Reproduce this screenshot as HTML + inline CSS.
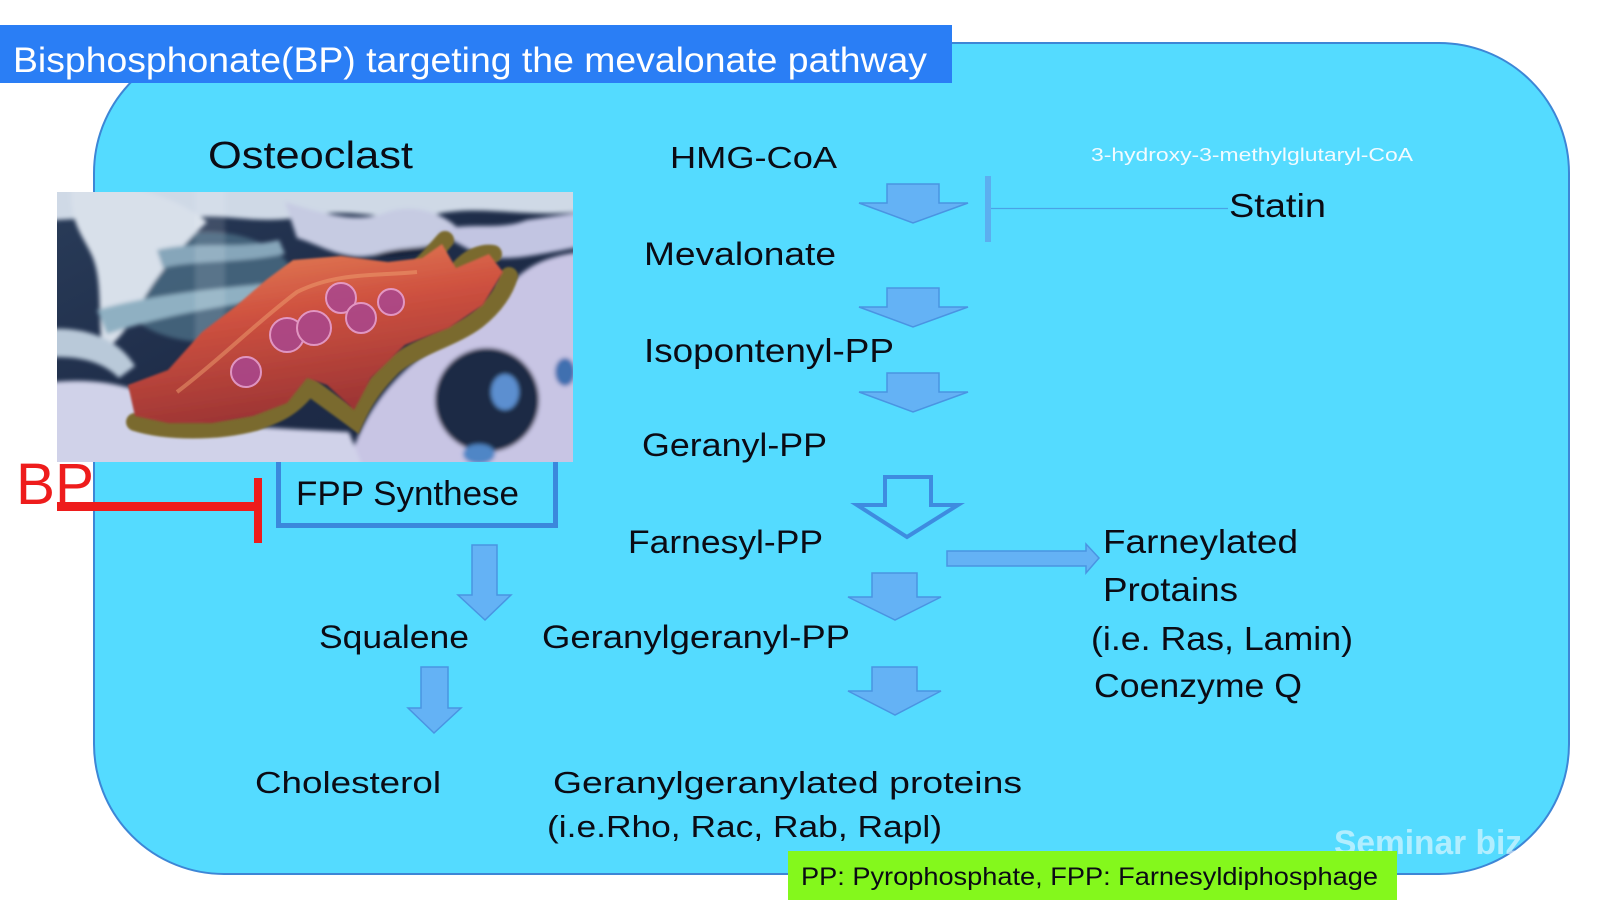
<!DOCTYPE html>
<html>
<head>
<meta charset="utf-8">
<style>
  html,body{margin:0;padding:0;background:#ffffff;}
  svg{display:block;}
  text{font-family:"Liberation Sans", Arial, sans-serif;}
</style>
</head>
<body>
<svg width="1600" height="900" viewBox="0 0 1600 900" xmlns="http://www.w3.org/2000/svg">
  <defs>
    <clipPath id="imgclip"><rect x="0" y="0" width="516" height="270"/></clipPath>
    <filter id="soft" x="-10%" y="-10%" width="120%" height="120%"><feGaussianBlur stdDeviation="2"/></filter>
    <filter id="soft1" x="-10%" y="-10%" width="120%" height="120%"><feGaussianBlur stdDeviation="1"/></filter>
    <linearGradient id="cellg" x1="0" y1="0" x2="0.3" y2="1">
      <stop offset="0" stop-color="#e88a5c"/>
      <stop offset="0.45" stop-color="#cf5240"/>
      <stop offset="1" stop-color="#9c3434"/>
    </linearGradient>
    <linearGradient id="bgimg" x1="0" y1="0" x2="1" y2="1">
      <stop offset="0" stop-color="#2a3d5a"/>
      <stop offset="0.5" stop-color="#1e2c48"/>
      <stop offset="1" stop-color="#1a2640"/>
    </linearGradient>
  </defs>

  <rect x="0" y="0" width="1600" height="900" fill="#ffffff"/>

  <!-- main rounded panel -->
  <rect x="94" y="43" width="1475" height="831" rx="130" ry="130" fill="#54dbff" stroke="#3d86d6" stroke-width="2"/>

  <!-- title bar -->
  <rect x="0" y="25" width="952" height="58" fill="#2a7ef5"/>
  <text x="13" y="72" font-size="35" fill="#ffffff" textLength="914" lengthAdjust="spacingAndGlyphs">Bisphosphonate(BP) targeting the mevalonate pathway</text>

  <!-- BP inhibitor -->
  <text x="16" y="504" font-size="58" fill="#ee1c1c" textLength="78" lengthAdjust="spacingAndGlyphs">BP</text>

  <!-- FPP Synthese box -->
  <rect x="278.5" y="430" width="277" height="95.5" fill="none" stroke="#3b88dc" stroke-width="5"/>
  <text x="296" y="505" font-size="34" fill="#0b0b14" textLength="223" lengthAdjust="spacingAndGlyphs">FPP Synthese</text>

  <!-- red inhibition -->
  <rect x="57" y="502" width="205" height="9" fill="#ee1c1c"/>
  <rect x="254" y="478" width="8" height="65" fill="#ee1c1c"/>

  <!-- osteoclast image -->
  <rect x="57" y="192" width="516" height="270" fill="#1e2c48"/>
  <g transform="translate(57,192)">
    <g clip-path="url(#imgclip)">
      <rect x="-10" y="-10" width="536" height="290" fill="url(#bgimg)"/>
      <g filter="url(#soft)">
        <ellipse cx="150" cy="95" rx="90" ry="55" fill="#4a6d85" opacity="0.8"/>
        <ellipse cx="330" cy="45" rx="60" ry="20" fill="#16223a"/>
        <!-- top band -->
        <path d="M-20,-20 H540 V18 C470,28 430,12 380,22 C330,32 300,14 250,24 C200,34 170,20 130,26 C90,32 40,22 -20,30 Z" fill="#cfd9e6"/>
        <!-- left hook bone -->
        <path d="M15,-10 C70,-12 125,8 150,30 C127,52 100,82 84,112 C72,134 62,148 46,160 C40,124 46,92 36,66 C28,46 10,30 15,-10 Z" fill="#d8e0ea"/>
        <!-- struts -->
        <path d="M40,118 C90,104 140,98 205,92 L210,108 C150,116 100,126 50,142 Z" fill="#8fb0c2"/>
        <path d="M100,58 C140,48 180,58 222,48 L228,62 C182,72 140,68 106,76 Z" fill="#86a6ba"/>
        <path d="M-20,138 C30,132 62,148 78,174 L62,186 C46,170 22,162 -20,166 Z" fill="#b9c9d9"/>
        <rect x="138" y="-10" width="30" height="200" fill="#ffffff" opacity="0.12"/>
        <!-- top middle bone -->
        <path d="M228,10 C268,22 300,32 330,20 C360,10 392,24 404,40 C382,60 350,52 320,62 C290,72 262,52 240,46 Z" fill="#c6cbe2"/>
        <!-- right top strut -->
        <path d="M380,40 C410,28 440,40 470,28 L540,18 V52 C480,62 450,72 420,62 Z" fill="#c2c5e2"/>
        <path d="M440,92 C470,88 495,94 540,92 V114 C490,114 468,112 446,112 Z" fill="#c0c3e0"/>
        <!-- right big bone -->
        <path d="M288,290 C298,230 330,190 370,160 C400,136 430,122 450,96 C470,72 492,62 540,58 V290 Z" fill="#c8c5e4"/>
        <!-- bottom-left bone -->
        <path d="M-20,192 C40,183 80,194 112,214 C150,236 220,236 292,240 L312,290 H-20 Z" fill="#d0d2e9"/>
        <!-- dark hole in right bone -->
        <ellipse cx="430" cy="208" rx="52" ry="52" fill="#1c2944"/>
        <ellipse cx="448" cy="200" rx="14" ry="18" fill="#5b8fd0"/>
        <ellipse cx="422" cy="262" rx="16" ry="10" fill="#4f86c6"/>
        <ellipse cx="508" cy="180" rx="10" ry="14" fill="#3f70b0"/>
      </g>
      <!-- fringe -->
      <path d="M78,230 C110,240 160,240 198,230 C220,222 236,216 252,194 C262,202 282,216 298,228 C306,210 316,194 336,174 C360,154 396,146 420,128 C438,114 448,98 452,84 M366,72 C378,60 384,52 388,48 M400,80 C410,66 425,60 436,62"
            fill="none" stroke="#7a6a2e" stroke-width="18" stroke-linecap="round" filter="url(#soft1)"/>
      <!-- cell body -->
      <polygon points="71,193 111,178 145,140 179,114 209,88 236,68 284,64 331,70 365,66 385,52 399,76 432,62 446,80 426,113 392,136 348,153 314,186 297,218 270,193 250,186 230,211 196,224 155,231 111,231 78,224"
               fill="url(#cellg)" filter="url(#soft1)"/>
      <path d="M120,200 C160,170 200,130 240,100 C280,80 320,84 360,80" fill="none" stroke="#f0a070" stroke-width="4" opacity="0.5"/>
      <!-- nuclei -->
      <g fill="#a9478f" stroke="#e7a3d9" stroke-width="2" opacity="0.85">
        <circle cx="189" cy="180" r="15"/>
        <circle cx="230" cy="143" r="17"/>
        <circle cx="257" cy="136" r="17"/>
        <circle cx="284" cy="106" r="15"/>
        <circle cx="304" cy="126" r="15"/>
        <circle cx="334" cy="110" r="13"/>
      </g>
    </g>
  </g>

  <!-- left column texts -->
  <text x="208" y="168" font-size="38" fill="#0b0b14" textLength="205" lengthAdjust="spacingAndGlyphs">Osteoclast</text>
  <text x="319" y="648" font-size="32" fill="#0b0b14" textLength="150" lengthAdjust="spacingAndGlyphs">Squalene</text>
  <text x="255" y="793" font-size="31" fill="#0b0b14" textLength="186" lengthAdjust="spacingAndGlyphs">Cholesterol</text>

  <!-- middle column texts -->
  <text x="670" y="168" font-size="31" fill="#0b0b14" textLength="167" lengthAdjust="spacingAndGlyphs">HMG-CoA</text>
  <text x="644" y="265" font-size="32" fill="#0b0b14" textLength="192" lengthAdjust="spacingAndGlyphs">Mevalonate</text>
  <text x="644" y="362" font-size="33" fill="#0b0b14" textLength="250" lengthAdjust="spacingAndGlyphs">Isopontenyl-PP</text>
  <text x="642" y="456" font-size="32" fill="#0b0b14" textLength="185" lengthAdjust="spacingAndGlyphs">Geranyl-PP</text>
  <text x="628" y="553" font-size="32" fill="#0b0b14" textLength="195" lengthAdjust="spacingAndGlyphs">Farnesyl-PP</text>
  <text x="542" y="648" font-size="32" fill="#0b0b14" textLength="308" lengthAdjust="spacingAndGlyphs">Geranylgeranyl-PP</text>
  <text x="553" y="793" font-size="31" fill="#0b0b14" textLength="469" lengthAdjust="spacingAndGlyphs">Geranylgeranylated proteins</text>
  <text x="547" y="837" font-size="31" fill="#0b0b14" textLength="395" lengthAdjust="spacingAndGlyphs">(i.e.Rho, Rac, Rab, Rapl)</text>

  <!-- right column texts -->
  <text x="1091" y="161" font-size="18" fill="#f2fbff" textLength="322" lengthAdjust="spacingAndGlyphs">3-hydroxy-3-methylglutaryl-CoA</text>
  <text x="1229" y="217" font-size="33" fill="#0b0b14" textLength="97" lengthAdjust="spacingAndGlyphs">Statin</text>
  <text x="1103" y="553" font-size="33" fill="#0b0b14" textLength="195" lengthAdjust="spacingAndGlyphs">Farneylated</text>
  <text x="1103" y="601" font-size="33" fill="#0b0b14" textLength="135" lengthAdjust="spacingAndGlyphs">Protains</text>
  <text x="1091" y="650" font-size="33" fill="#0b0b14" textLength="262" lengthAdjust="spacingAndGlyphs">(i.e. Ras, Lamin)</text>
  <text x="1094" y="697" font-size="33" fill="#0b0b14" textLength="208" lengthAdjust="spacingAndGlyphs">Coenzyme Q</text>

  <!-- statin inhibition -->
  <rect x="985" y="176" width="6" height="66" fill="#5ea6ec" opacity="0.85"/>
  <line x1="991" y1="208.5" x2="1228" y2="208.5" stroke="#4aa2e6" stroke-width="1.2"/>

  <!-- arrows -->
  <g fill="#64b2f5" stroke="#4a94e2" stroke-width="1.5" stroke-linejoin="miter">
    <polygon points="887,184 939,184 939,203 968,203 913,223 859,203 887,203"/>
    <polygon points="887,288 939,288 939,307 968,307 913,327 859,307 887,307"/>
    <polygon points="887,373 939,373 939,392 968,392 913,412 859,392 887,392"/>
    <polygon points="872,573 917,573 917,597 941,597 895,620 848,597 872,597"/>
    <polygon points="872,667 917,667 917,691 941,691 895,715 848,691 872,691"/>
    <polygon points="947,551 1086,551 1086,544 1099,558 1086,573 1086,566 947,566"/>
    <polygon points="472,545 497,545 497,595 511,595 485,620 458,595 472,595"/>
    <polygon points="421,667 448,667 448,708 461,708 434,733 408,708 421,708"/>
  </g>
  <polygon points="885,477 931,477 931,505 958,505 907,537 857,505 885,505" fill="none" stroke="#3e8ce0" stroke-width="4" stroke-linejoin="miter"/>

  <!-- watermark -->
  <text x="1334" y="854" font-size="34" font-weight="bold" fill="#ffffff" opacity="0.55" textLength="188" lengthAdjust="spacingAndGlyphs">Seminar biz</text>

  <!-- legend -->
  <rect x="788" y="851" width="609" height="49" fill="#84f81c"/>
  <text x="801" y="885" font-size="25" fill="#0b0b14" textLength="577" lengthAdjust="spacingAndGlyphs">PP: Pyrophosphate, FPP: Farnesyldiphosphage</text>
</svg>
</body>
</html>
